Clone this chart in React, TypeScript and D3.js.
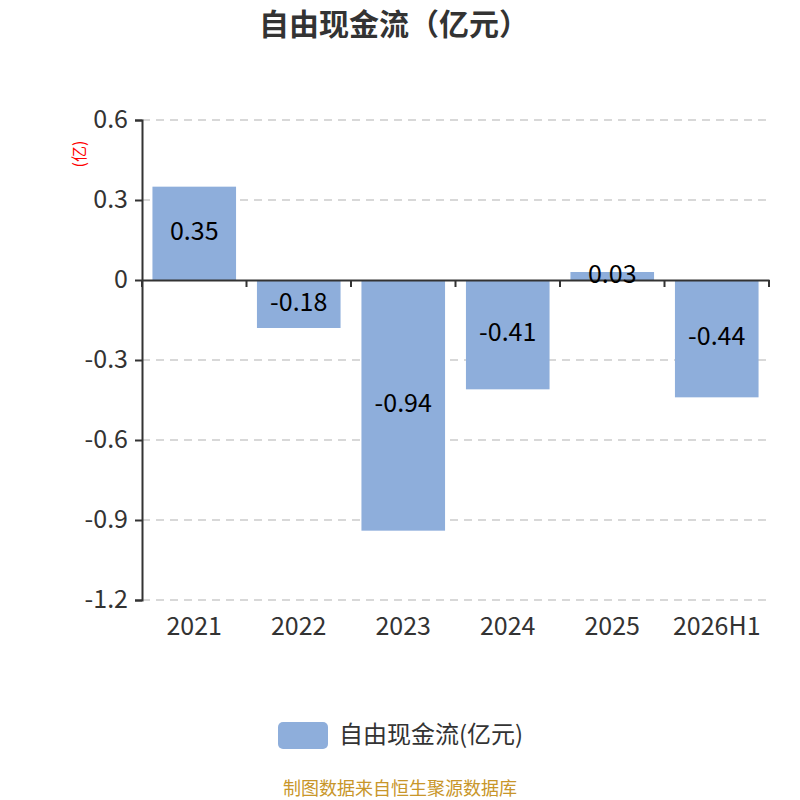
import { useEffect, useRef } from 'react';
import * as d3 from 'd3';

const categories = ['2021', '2022', '2023', '2024', '2025', '2026H1'];
const values = [0.35, -0.18, -0.94, -0.41, 0.03, -0.44];
const yTicks = [0.6, 0.3, 0, -0.3, -0.6, -0.9, -1.2];

const FONT = '"Noto Sans CJK SC", "Noto Sans", sans-serif';
const BAR = '#8eaedb';

export default function App() {
  const ref = useRef<SVGSVGElement>(null);

  useEffect(() => {
    document.body.style.margin = '0';
    if (!ref.current) return;
    const svg = d3.select(ref.current);
    svg.selectAll('*').remove();

    const left = 142;
    const right = 769;
    const top = 120;
    const bottom = 600;

    const x = d3.scaleBand().domain(categories).range([left, right]).paddingInner(0.2).paddingOuter(0.1);
    const xb = d3.scaleBand().domain(categories).range([left, right]);
    const y = d3.scaleLinear().domain([-1.2, 0.6]).range([bottom, top]);

    // title
    svg
      .append('text')
      .attr('x', 394)
      .attr('y', 24)
      .attr('dy', '0.35em')
      .attr('text-anchor', 'middle')
      .style('font-family', FONT)
      .style('font-size', '30px')
      .style('font-weight', 'bold')
      .style('fill', '#333')
      .text('自由现金流（亿元）');

    // grid
    svg
      .append('g')
      .selectAll('line')
      .data(yTicks.filter((d) => d !== 0))
      .enter()
      .append('line')
      .attr('x1', left)
      .attr('x2', right)
      .attr('y1', (d) => y(d))
      .attr('y2', (d) => y(d))
      .attr('stroke', '#ccc')
      .attr('stroke-width', 1.5)
      .attr('stroke-dasharray', '8,6');

    // bars
    svg
      .append('g')
      .selectAll('rect')
      .data(values)
      .enter()
      .append('rect')
      .attr('x', (d, i) => x(categories[i]) || 0)
      .attr('width', x.bandwidth())
      .attr('y', (d) => y(Math.max(0, d)))
      .attr('height', (d) => Math.abs(y(d) - y(0)))
      .attr('fill', BAR);

    // y axis
    const yAxis = svg
      .append('g')
      .attr('transform', `translate(${left},0)`)
      .call(d3.axisLeft(y).tickValues(yTicks).tickSize(7).tickFormat((d) => String(d)));
    yAxis.select('.domain').attr('stroke', '#333').attr('stroke-width', 2);
    yAxis.selectAll('.tick line').attr('stroke', '#333').attr('stroke-width', 2);
    yAxis
      .selectAll('.tick text')
      .attr('x', -14)
      .attr('dy', '0.3em')
      .style('font-family', FONT)
      .style('font-size', '25px')
      .style('fill', '#333');

    // x axis at zero
    const xAxis = svg
      .append('g')
      .attr('transform', `translate(0,${y(0)})`)
      .call(d3.axisBottom(xb).tickSize(0).tickFormat(() => ''));
    xAxis.select('.domain').attr('stroke', '#333').attr('stroke-width', 2);
    svg
      .append('g')
      .selectAll('line')
      .data(categories.concat(['end']))
      .enter()
      .append('line')
      .attr('x1', (d, i) => left + i * xb.bandwidth())
      .attr('x2', (d, i) => left + i * xb.bandwidth())
      .attr('y1', y(0))
      .attr('y2', y(0) + 7)
      .attr('stroke', '#333')
      .attr('stroke-width', 2);

    // x labels
    svg
      .append('g')
      .selectAll('text')
      .data(categories)
      .enter()
      .append('text')
      .attr('x', (d) => (xb(d) || 0) + xb.bandwidth() / 2)
      .attr('y', 626)
      .attr('dy', '0.35em')
      .attr('text-anchor', 'middle')
      .style('font-family', FONT)
      .style('font-size', '25px')
      .style('fill', '#333')
      .text((d) => d);

    // value labels
    svg
      .append('g')
      .selectAll('text')
      .data(values)
      .enter()
      .append('text')
      .attr('x', (d, i) => (x(categories[i]) || 0) + x.bandwidth() / 2)
      .attr('y', (d) => (y(d) + y(0)) / 2 - 2)
      .attr('dy', '0.35em')
      .attr('text-anchor', 'middle')
      .style('font-family', FONT)
      .style('font-size', '25px')
      .style('fill', '#000')
      .text((d) => String(d));

    // unit label
    svg
      .append('text')
      .attr('transform', 'translate(79,154) rotate(-90)')
      .attr('text-anchor', 'middle')
      .attr('dy', '0.35em')
      .style('font-family', FONT)
      .style('font-size', '16px')
      .style('fill', 'red')
      .text('(亿)');

    // legend
    svg
      .append('rect')
      .attr('x', 278)
      .attr('y', 722)
      .attr('width', 50)
      .attr('height', 27)
      .attr('rx', 5)
      .attr('fill', BAR);
    svg
      .append('text')
      .attr('x', 339)
      .attr('y', 735)
      .attr('dy', '0.35em')
      .style('font-family', FONT)
      .style('font-size', '24px')
      .style('fill', '#333')
      .text('自由现金流(亿元)');

    // source
    svg
      .append('text')
      .attr('x', 400)
      .attr('y', 789)
      .attr('dy', '0.35em')
      .attr('text-anchor', 'middle')
      .style('font-family', FONT)
      .style('font-size', '18px')
      .style('fill', '#c8962a')
      .text('制图数据来自恒生聚源数据库');
  }, []);

  return <svg ref={ref} width={800} height={800} style={{ display: 'block', background: '#fff' }} />;
}
